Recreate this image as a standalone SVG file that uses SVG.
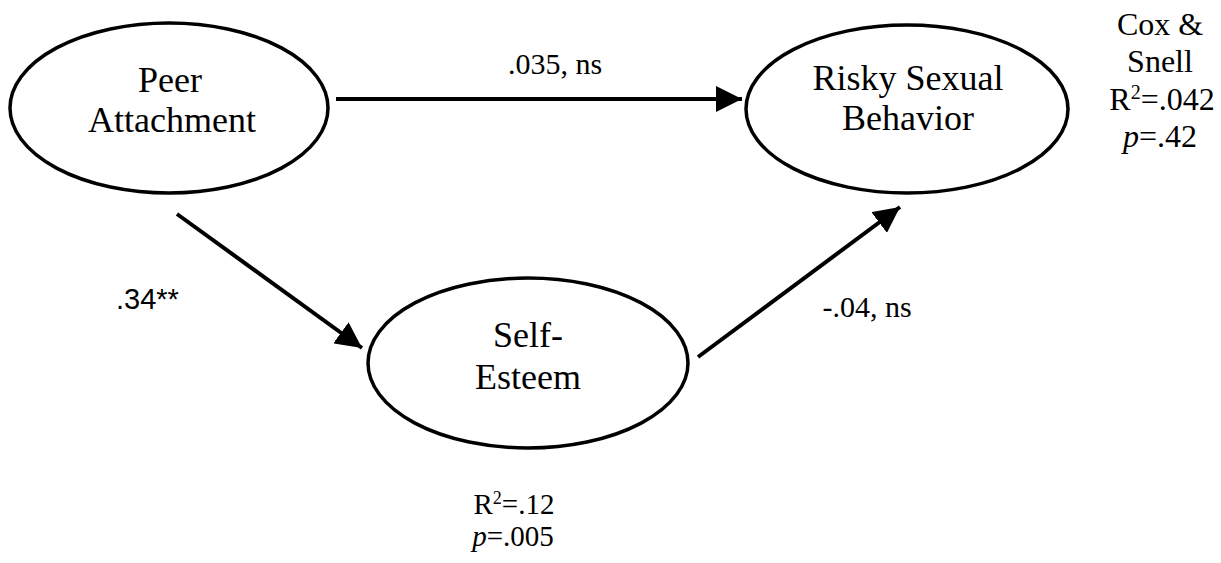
<svg xmlns="http://www.w3.org/2000/svg" width="1221" height="563" viewBox="0 0 1221 563">
  <style>
    .node { fill: #fff; stroke: #000; stroke-width: 3.5; }
    .label { font-family: "Liberation Serif", "Times New Roman", serif; fill: #000; text-anchor: middle; }
    .big { font-size: 36px; }
    .mid { font-size: 32px; }
    .small { font-size: 30px; }
    .fit { font-size: 29px; }
    .sans { font-family: "Liberation Sans", Arial, sans-serif; font-size: 29px; fill: #000; }
    .edge { stroke: #000; stroke-width: 4; fill: none; marker-end: url(#head); }
  </style>
  <defs>
    <marker id="head" viewBox="0 0 10 10" refX="10" refY="5" markerUnits="userSpaceOnUse" markerWidth="26" markerHeight="26" orient="auto">
      <path d="M0,0 L10,5 L0,10 Z" fill="#000"/>
    </marker>
  </defs>

  <!-- connectors and their path coefficients -->
  <g id="connectors">
    <line class="edge" x1="336" y1="99" x2="742" y2="99"/>
    <line class="edge" x1="177" y1="214" x2="362" y2="348"/>
    <line class="edge" x1="698" y1="357" x2="900" y2="207"/>
    <text class="label small" x="555" y="74">.035, ns</text>
    <text class="sans" x="116" y="309">.34**</text>
    <text class="label small" x="867" y="317">-.04, ns</text>
  </g>

  <g id="peer-attachment">
    <ellipse class="node" cx="169" cy="108" rx="159" ry="85"/>
    <text class="label big" x="170" y="92">Peer</text>
    <text class="label big" x="172" y="132">Attachment</text>
  </g>

  <g id="risky-sexual-behavior">
    <ellipse class="node" cx="907" cy="109" rx="161" ry="84"/>
    <text class="label big" x="908" y="90">Risky Sexual</text>
    <text class="label big" x="908" y="130">Behavior</text>
  </g>

  <g id="self-esteem">
    <ellipse class="node" cx="528" cy="363" rx="160" ry="85"/>
    <text class="label big" x="528" y="347">Self-</text>
    <text class="label big" x="528" y="389">Esteem</text>
  </g>

  <g id="rsb-fit">
    <text class="label mid" x="1160" y="35">Cox &amp;</text>
    <text class="label mid" x="1160" y="72">Snell</text>
    <text class="label mid" x="1162" y="110">R<tspan font-size="20" baseline-shift="super">2</tspan>=.042</text>
    <text class="label mid" x="1160" y="147"><tspan font-style="italic">p</tspan>=.42</text>
  </g>

  <g id="se-fit">
    <text class="label fit" x="514" y="514">R<tspan font-size="18" baseline-shift="super">2</tspan>=.12</text>
    <text class="label fit" x="513" y="546"><tspan font-style="italic">p</tspan>=.005</text>
  </g>
</svg>
